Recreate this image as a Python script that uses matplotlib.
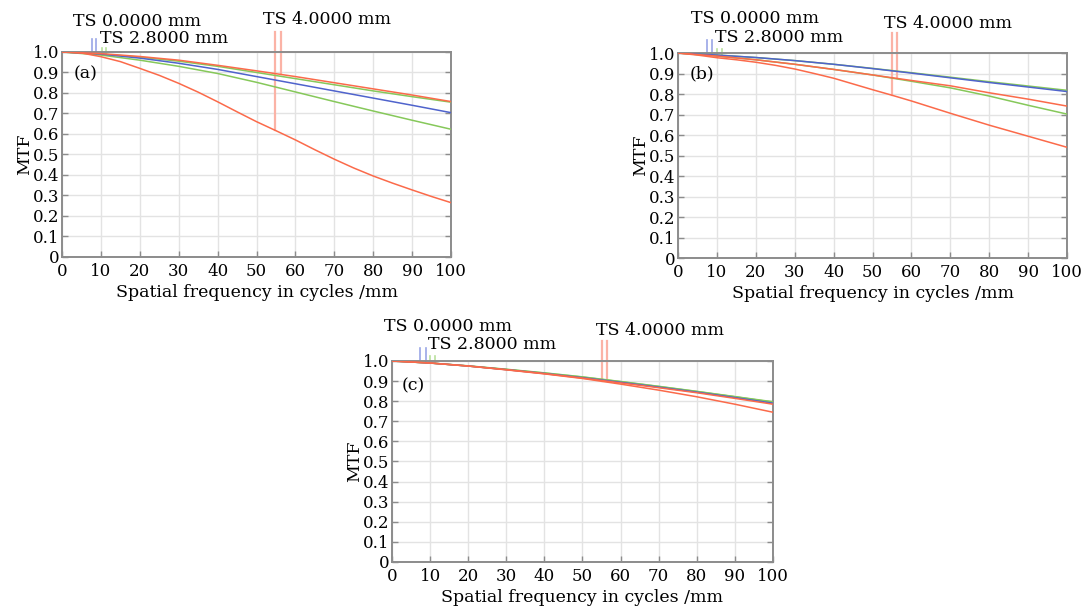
import numpy as np
import matplotlib
matplotlib.use("Agg")
import matplotlib.pyplot as plt

# ---------------- data ----------------
freq = [0, 10, 20, 30, 40, 50, 60, 70, 80, 90, 100]
freq_fine = [0, 5, 10, 15, 20, 25, 30, 35, 40, 45, 50, 55, 60, 65, 70, 75, 80, 85, 90, 95, 100]

# panel (a)
a_blue    = [1.0, 0.990, 0.970, 0.945, 0.915, 0.880, 0.845, 0.810, 0.775, 0.740, 0.704]
a_green_t = [1.0, 0.985, 0.960, 0.930, 0.895, 0.852, 0.805, 0.758, 0.712, 0.667, 0.623]
a_green_s = [1.0, 0.990, 0.975, 0.955, 0.930, 0.900, 0.870, 0.840, 0.810, 0.782, 0.755]
a_red_t   = [1.0, 0.995, 0.977, 0.953, 0.920, 0.886, 0.847, 0.804, 0.757, 0.708, 0.660,
             0.616, 0.571, 0.523, 0.477, 0.434, 0.395, 0.360, 0.327, 0.295, 0.265]
a_red_s   = [1.0, 0.992, 0.978, 0.960, 0.935, 0.908, 0.880, 0.850, 0.820, 0.790, 0.758]

# panel (b)
b_blue    = [1.0, 0.990, 0.978, 0.963, 0.945, 0.924, 0.902, 0.879, 0.856, 0.834, 0.812]
b_green_t = [1.0, 0.985, 0.967, 0.945, 0.920, 0.893, 0.862, 0.830, 0.790, 0.745, 0.702]
b_green_s = [1.0, 0.990, 0.978, 0.963, 0.945, 0.925, 0.904, 0.882, 0.860, 0.839, 0.818]
b_red_t   = [1.0, 0.990, 0.977, 0.967, 0.955, 0.940, 0.922, 0.900, 0.877, 0.849, 0.821,
             0.794, 0.766, 0.736, 0.706, 0.677, 0.648, 0.621, 0.594, 0.567, 0.540]
b_red_s   = [1.0, 0.985, 0.967, 0.945, 0.920, 0.893, 0.866, 0.840, 0.806, 0.775, 0.741]

# panel (c)
c_blue    = [1.0, 0.990, 0.975, 0.957, 0.938, 0.917, 0.894, 0.870, 0.845, 0.818, 0.790]
c_green_t = [1.0, 0.990, 0.975, 0.958, 0.940, 0.920, 0.897, 0.873, 0.848, 0.822, 0.795]
c_green_s = [1.0, 0.990, 0.976, 0.959, 0.941, 0.921, 0.898, 0.874, 0.849, 0.823, 0.797]
c_red_t   = [1.0, 0.990, 0.975, 0.956, 0.936, 0.913, 0.885, 0.855, 0.822, 0.785, 0.745]
c_red_s   = [1.0, 0.990, 0.975, 0.957, 0.937, 0.915, 0.891, 0.867, 0.842, 0.814, 0.785]

field_labels = ["TS 0.0000 mm", "TS 2.8000 mm", "TS 4.0000 mm"]
panel_tags = ["(a)", "(b)", "(c)"]
x_ticks = list(range(0, 101, 10))
y_ticks = [round(0.1 * i, 1) for i in range(11)]
y_tick_labels = ["0"] + [f"{v:.1f}" for v in y_ticks[1:]]
xlabel = "Spatial frequency in cycles /mm"
ylabel = "MTF"

# ---------------- style ----------------
BLUE = "#4f63cc"
GREEN = "#86c85a"
RED = "#fb6a4a"
BLUE_M = "#9aa6e6"
GREEN_M = "#b9e09c"
RED_M = "#fbb3a6"
SPINE = "#8c8c8c"
GRID = "#e3e3e3"
FONT = "DejaVu Serif"

plt.rcParams["font.family"] = [FONT, "DejaVu Sans"]

fig = plt.figure(figsize=(10.84, 6.10), dpi=100)


def xs_for(curve):
    return freq_fine if len(curve) == len(freq_fine) else freq


panels = [
    dict(rect=[0.0572, 0.5787, 0.3589, 0.3361], data=(a_blue, a_green_t, a_green_s, a_red_t, a_red_s),
         lab=[(2.8, 1.151), (9.8, 1.068), (51.7, 1.156)], tag=(3.1, 0.893),
         bm=([7.7, 8.8], 1.063), gm=([10.3, 11.3], 1.02), rm=([54.8, 56.3], 1.098)),
    dict(rect=[0.6255, 0.5770, 0.3589, 0.3361], data=(b_blue, b_green_t, b_green_s, b_red_t, b_red_s),
         lab=[(3.3, 1.166), (9.5, 1.075), (53.0, 1.145)], tag=(3.1, 0.898),
         bm=([7.5, 8.8], 1.063), gm=([10.1, 11.3], 1.02), rm=([55.0, 56.3], 1.10)),
    dict(rect=[0.3616, 0.0787, 0.3515, 0.3295], data=(c_blue, c_green_t, c_green_s, c_red_t, c_red_s),
         lab=[(-2.0, 1.171), (9.5, 1.08), (53.5, 1.154)], tag=(2.5, 0.876),
         bm=([7.35, 8.8], 1.063), gm=([10.0, 11.3], 1.025), rm=([55.0, 56.4], 1.10)),
]

for i, p in enumerate(panels):
    ax = fig.add_axes(p["rect"])
    blue, gt, gs, rt, rs = p["data"]
    ax.set_xlim(0, 100)
    ax.set_ylim(0, 1.0)
    ax.grid(True, color=GRID, lw=1.0, zorder=0)
    ax.set_axisbelow(True)
    for curve, col in ((gt, GREEN), (gs, GREEN), (blue, BLUE), (rs, RED), (rt, RED)):
        ax.plot(xs_for(curve), curve, color=col, lw=1.1, zorder=3)

    # marker lines connecting labels to curves
    (bx, btop), (gx, gtop), (rx, rtop) = p["bm"], p["gm"], p["rm"]
    for xx, curve in zip(bx, (blue, blue)):
        ax.plot([xx, xx], [btop, np.interp(xx, xs_for(curve), curve)], color=BLUE_M, lw=1.2,
                clip_on=False, zorder=2)
    for xx, curve in zip(gx, (gt, gs)):
        ax.plot([xx, xx], [gtop, np.interp(xx, xs_for(curve), curve)], color=GREEN_M, lw=1.2,
                clip_on=False, zorder=2)
    for xx, curve in zip(rx, (rt, rs)):
        ax.plot([xx, xx], [rtop, np.interp(xx, xs_for(curve), curve)], color=RED_M, lw=1.6,
                clip_on=False, zorder=2)

    for (lx, ly), txt in zip(p["lab"], field_labels):
        ax.text(lx, ly, txt, ha="left", va="center", fontsize=12.5, family=FONT, clip_on=False)
    ax.text(p["tag"][0], p["tag"][1], panel_tags[i], ha="left", va="center", fontsize=12.5, family=FONT)

    ax.set_xticks(x_ticks)
    ax.set_xticklabels([str(v) for v in x_ticks])
    ax.set_yticks(y_ticks)
    ax.set_yticklabels(y_tick_labels)
    ax.tick_params(axis="both", direction="in", length=4, width=1.0, color=SPINE,
                   labelsize=12, right=True, top=False)
    ax.tick_params(axis="x", pad=4)
    ax.tick_params(axis="y", pad=2)
    for lab in ax.get_xticklabels() + ax.get_yticklabels():
        lab.set_family(FONT)
    for s in ax.spines.values():
        s.set_color(SPINE)
        s.set_linewidth(1.4)
    ax.set_xlabel(xlabel, fontsize=12.5, family=FONT, labelpad=3)
    ax.set_ylabel(ylabel, fontsize=12.5, family=FONT, labelpad=0)

fig.savefig("out.png", dpi=100)
